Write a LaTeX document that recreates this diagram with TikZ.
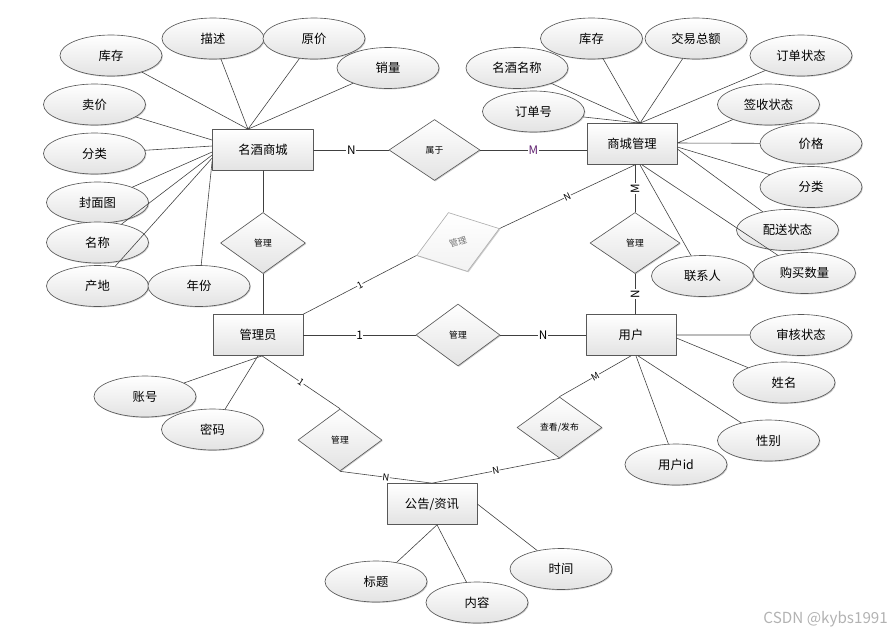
\documentclass[tikz,border=0pt]{standalone}
\usepackage{fontspec}
\setmainfont{Noto Sans CJK SC}
\usetikzlibrary{calc,shapes.geometric,shadows}
\definecolor{erline}{RGB}{64,64,64}
\definecolor{erborder}{RGB}{88,88,88}
\definecolor{erfade}{RGB}{175,175,175}
\definecolor{mpurple}{RGB}{96,32,112}
\tikzset{
  er shade/.style={top color=white,bottom color=black!11,
    drop shadow={shadow xshift=.8pt,shadow yshift=-.8pt,opacity=.35,fill=black!55}},
  entity/.style={er shade,draw=erborder,line width=.6pt,rectangle,minimum width=2.7cm,
    minimum height=1.23cm,inner sep=1pt,font=\fontsize{10.5}{12}\selectfont},
  attr/.style={er shade,draw=erborder,line width=.55pt,ellipse,minimum width=3.06cm,
    minimum height=1.23cm,inner sep=0pt,font=\fontsize{10.5}{12}\selectfont},
  relation/.style={er shade,draw=erborder,line width=.55pt,diamond,minimum width=2.55cm,
    minimum height=1.83cm,inner sep=0pt,font=\fontsize{7.5}{9}\selectfont},
  er edge/.style={draw=erline,line width=.5pt},
  card/.style={font=\fontsize{10}{11}\selectfont,fill=white,inner sep=.5pt},
  small card/.style={font=\fontsize{8}{9}\selectfont,fill=white,inner sep=.3pt,sloped}
}

\begin{document}
\begin{tikzpicture}[x=0.03cm,y=-0.03cm,line cap=round,line join=round]
  \useasboundingbox (0,0) rectangle (895,634);

  % Entities.
  \node[entity,minimum width=3.03cm] (mall) at (263,150) {名酒商城};
  \node[entity] (shop)   at (632,144) {商城管理};
  \node[entity] (admin)  at (258,335) {管理员};
  \node[entity] (user)   at (631,335) {用户};
  \node[entity] (notice) at (432,504) {公告/资讯};

  % Relationships.
  \node[relation,minimum width=2.73cm] (belong) at (434.5,150) {属于};
  \node[relation] (manage1) at (263,243) {管理};
  \node[relation,minimum width=2.7cm] (manage2) at (635,243) {管理};
  \node[relation,rotate=18,draw=erfade,text=black!55,bottom color=black!5,
        minimum width=2.61cm,minimum height=1.86cm] (manage0) at (458,242) {管理};
  \node[relation,minimum width=2.52cm,minimum height=1.86cm] (manage3) at (458,335) {管理};
  \node[relation,minimum width=2.52cm,minimum height=1.86cm] (manage4) at (340,440) {管理};
  \node[relation] (view) at (559.5,427.5) {查看/发布};

  % Attributes of 名酒商城.
  \node[attr] (m_stock)  at (111,55.5)  {库存};
  \node[attr] (m_desc)   at (213,38.5)  {描述};
  \node[attr] (m_orig)   at (314,38.5)  {原价};
  \node[attr] (m_sales)  at (388,68)    {销量};
  \node[attr] (m_price)  at (94.5,104.5) {卖价};
  \node[attr] (m_cat)    at (94.5,153.5) {分类};
  \node[attr] (m_cover)  at (97.5,202.5) {封面图};
  \node[attr] (m_name)   at (97.5,242.5) {名称};
  \node[attr] (m_origin) at (97.5,286)  {产地};
  \node[attr] (m_year)   at (199,286)   {年份};

  % Attributes of 商城管理.
  \node[attr] (s_name)    at (517,68)     {名酒名称};
  \node[attr] (s_stock)   at (591.5,38.5) {库存};
  \node[attr] (s_total)   at (696,38.5)   {交易总额};
  \node[attr] (s_state)   at (801,55.5)   {订单状态};
  \node[attr] (s_order)   at (533.5,111.5) {订单号};
  \node[attr] (s_sign)    at (768.5,104.5) {签收状态};
  \node[attr] (s_price)   at (811,143.5)  {价格};
  \node[attr] (s_cat)     at (811,187)    {分类};
  \node[attr] (s_ship)    at (787.5,230)  {配送状态};
  \node[attr] (s_contact) at (702.5,276)  {联系人};
  \node[attr] (s_qty)     at (804.5,273)  {购买数量};

  % Attributes of 管理员, 用户 and 公告/资讯.
  \node[attr] (a_acc)   at (145,396.5)  {账号};
  \node[attr] (a_pwd)   at (212.5,429.5) {密码};
  \node[attr] (u_audit) at (801,335)    {审核状态};
  \node[attr] (u_name)  at (784,382.5)  {姓名};
  \node[attr] (u_sex)   at (768.5,440.5) {性别};
  \node[attr] (u_id)    at (676,464.5)  {用户id};
  \node[attr] (n_title) at (376,581.5)  {标题};
  \node[attr] (n_body)  at (477,602.5)  {内容};
  \node[attr] (n_time)  at (561,569)    {时间};

  % Points where attribute lines meet the entities.
  \coordinate (mall top) at ($(mall.north)+(-15,0)$);
  \coordinate (shop top) at ($(shop.north)+(8,0)$);
  \coordinate (shop bot) at ($(shop.south)+(3,0)$);
  \coordinate (admin bot) at ($(admin.south)+(4,0)$);
  \coordinate (notice bot) at ($(notice.south)+(5,0)$);

  \draw[er edge] (m_stock) -- (mall top) (m_desc) -- (mall top)
        (m_orig) -- (mall top) (m_sales) -- (mall top);
  \draw[er edge] (m_price) -- ($(mall.west)+(0,-10)$)
        (m_cat) -- ($(mall.west)+(0,-4)$)
        (m_cover) -- ($(mall.west)+(0,2)$)
        (m_name) -- ($(mall.west)+(0,5)$)
        (m_origin) -- ($(mall.west)+(0,8)$)
        (m_year) -- ($(mall.west)+(0,11)$);

  \draw[er edge] (s_name) -- (shop top) (s_stock) -- (shop top)
        (s_total) -- (shop top) (s_state) -- (shop top) (s_order) -- (shop top);
  \draw[er edge] (s_sign) -- ($(shop.east)+(0,-1)$)
        (s_price) -- ($(shop.east)+(0,-1)$)
        (s_cat) -- ($(shop.east)+(0,3)$)
        (s_ship) -- ($(shop.east)+(0,5)$)
        (s_contact) -- ($(shop.south)+(8,0)$)
        (s_qty) -- ($(shop.south)+(10,0)$);

  \draw[er edge] (a_acc) -- (admin bot) (a_pwd) -- (admin.south);
  \draw[er edge] (u_audit) -- (user.east) (u_name) -- ($(user.east)+(0,3)$)
        (u_sex) -- ($(user.south)+(7,0)$) (u_id) -- ($(user.south)+(5,0)$);
  \draw[er edge] (n_title) -- (notice bot) (n_body) -- (notice bot)
        (n_time) -- (notice.east);

  % Relationship lines with their cardinalities.
  \draw[er edge] (mall.east) -- node[card] {N} (belong.west);
  \draw[er edge] (belong.east) -- node[card,text=mpurple] {M} (belong.east -| shop.west);
  \draw[er edge] (mall.south) -- (manage1.north);
  \draw[er edge] (manage1.south) -- (manage1.south |- admin.north);
  \draw[er edge] (manage2.north |- shop.south) -- node[card,rotate=90] {M} (manage2.north);
  \draw[er edge] (manage2.south) -- node[card,rotate=90] {N} (manage2.south |- user.north);
  \draw[er edge] (admin.north east) -- node[small card] {1} (manage0.west);
  \draw[er edge] (manage0.east) -- node[small card] {N} (shop bot);
  \draw[er edge] (admin.east) -- node[card] {1} (manage3.west);
  \draw[er edge] (manage3.east) -- node[card] {N} (user.west);
  \draw[er edge] (admin bot) -- node[small card] {1} (manage4.north);
  \draw[er edge] (manage4.south) -- node[small card] {N} (notice.north);
  \draw[er edge] (view.south) -- node[small card] {N} (notice.north);
  \draw[er edge] (user.south) -- node[small card] {M} (view.north);

  \node[text=black!30,anchor=east,font=\fontsize{13}{14}\selectfont] (mark) at (892,619) {CSDN @kybs1991};
\end{tikzpicture}
\end{document}
